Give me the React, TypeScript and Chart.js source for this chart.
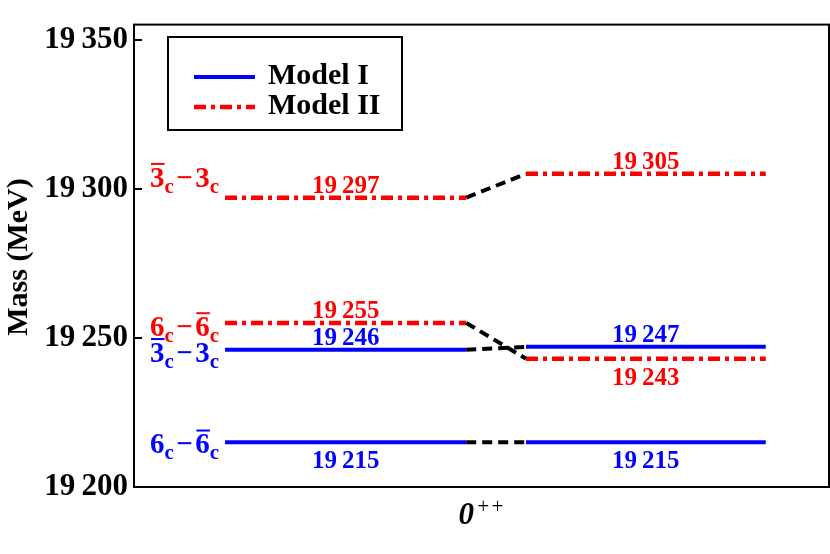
import React, { useEffect, useRef } from "react";
import { Chart, registerables } from "chart.js";
Chart.register(...registerables);

// ---- data ----
const stateLabels = ["6_c−~6_c", "~3_c−3_c"]; // "~" = overline next char, "_" = subscript next char
const modelILeft = [19215, 19246];
const modelIRight = [19215, 19247];
const modelIILeft = [19255, 19297];
const modelIIRight = [19243, 19305];
const yTicks = [19200, 19250, 19300, 19350];
const legendLabels = ["Model I", "Model II"];
const xCategory = ["0", "++"];

// ---- layout/style (not data) ----
const LEFT_X = [13.1, 47.8];
const RIGHT_X = [56.4, 90.9];
const BLUE = "#0000ff";
const RED = "#ff0000";
const FONT = '"Liberation Serif", "Times New Roman", serif';
const RED_DASH = [12, 5, 4, 5];
// value label placement
const modelIPlace = { left: ["below", "above"], right: ["below", "above"] };
const modelIIPlace = { left: ["above", "above"], right: ["below", "above"] };
// state label baseline offsets (px) from line
const modelIStateOffset = [11, 12];
const modelIIStateOffset = [13, -11];

function fmt(v: number) {
  const s = String(v);
  return s.slice(0, 2) + "\u2009" + s.slice(2);
}

function drawMarkup(ctx: CanvasRenderingContext2D, markup: string, x: number, baseline: number, color: string) {
  const main = 29;
  const sub = 21;
  ctx.fillStyle = color;
  ctx.textAlign = "left";
  ctx.textBaseline = "alphabetic";
  let cx = x;
  let i = 0;
  while (i < markup.length) {
    const ch = markup[i];
    if (ch === "~") {
      const c = markup[i + 1];
      ctx.font = `bold ${main}px ${FONT}`;
      const w = ctx.measureText(c).width;
      ctx.fillText(c, cx, baseline);
      ctx.fillRect(cx + 1, baseline - main * 0.68 - 4, w - 1, 2);
      cx += w;
      i += 2;
    } else if (ch === "_") {
      const c = markup[i + 1];
      ctx.font = `bold ${sub}px ${FONT}`;
      ctx.fillText(c, cx, baseline + 6);
      cx += ctx.measureText(c).width;
      i += 2;
    } else if (ch === "−") {
      ctx.font = `bold ${main}px ${FONT}`;
      cx += 2.5;
      ctx.fillText(ch, cx, baseline);
      cx += ctx.measureText(ch).width + 2.5;
      i += 1;
    } else {
      ctx.font = `bold ${main}px ${FONT}`;
      ctx.fillText(ch, cx, baseline);
      cx += ctx.measureText(ch).width;
      i += 1;
    }
  }
}

function seg(x0: number, x1: number, y0: number, y1: number) {
  return [
    { x: x0, y: y0 },
    { x: x1, y: y1 },
  ];
}

export default function App() {
  const ref = useRef<HTMLCanvasElement>(null);
  useEffect(() => {
    const canvas = ref.current!;
    const datasets: any[] = [];
    // connectors (black dashed)
    const pairs: [number[], number[]][] = [
      [modelILeft, modelIRight],
      [modelIILeft, modelIIRight],
    ];
    pairs.forEach(([l, r]) => {
      l.forEach((v, i) => {
        datasets.push({
          data: seg(LEFT_X[1], RIGHT_X[0], v, r[i]),
          borderColor: "#000",
          borderWidth: 4,
          borderDash: [10, 6],
          pointRadius: 0,
        });
      });
    });
    const addModel = (l: number[], r: number[], color: string, dash: number[], width: number, place: any, stateOff: number[]) => {
      l.forEach((v, i) => {
        datasets.push({
          data: seg(LEFT_X[0], LEFT_X[1], v, v),
          borderColor: color,
          borderWidth: width,
          borderDash: dash,
          pointRadius: 0,
          valueLabel: { text: fmt(v), place: place.left[i], color },
          stateLabel: { text: stateLabels[i], offset: stateOff[i], color },
        });
      });
      r.forEach((v, i) => {
        datasets.push({
          data: seg(RIGHT_X[0], RIGHT_X[1], v, v),
          borderColor: color,
          borderWidth: width,
          borderDash: dash,
          pointRadius: 0,
          valueLabel: { text: fmt(v), place: place.right[i], color },
        });
      });
    };
    addModel(modelILeft, modelIRight, BLUE, [], 4, modelIPlace, modelIStateOffset);
    addModel(modelIILeft, modelIIRight, RED, RED_DASH, 4.5, modelIIPlace, modelIIStateOffset);

    const deco = {
      id: "deco",
      afterDraw(chart: any) {
        const ctx: CanvasRenderingContext2D = chart.ctx;
        const a = chart.chartArea;
        const ys = chart.scales.y;
        const xs = chart.scales.x;
        ctx.save();
        // frame
        ctx.strokeStyle = "#000";
        ctx.lineWidth = 2;
        ctx.setLineDash([]);
        ctx.strokeRect(a.left, a.top, a.right - a.left, a.bottom - a.top);
        // inside ticks
        yTicks.forEach((v) => {
          const py = Math.round(ys.getPixelForValue(v));
          ctx.beginPath();
          ctx.moveTo(a.left, py);
          ctx.lineTo(a.left + 8, py);
          ctx.stroke();
        });
        // value + state labels
        chart.data.datasets.forEach((ds: any) => {
          const p0 = ds.data[0];
          const p1 = ds.data[1];
          const px0 = xs.getPixelForValue(p0.x);
          const px1 = xs.getPixelForValue(p1.x);
          const py = ys.getPixelForValue(p0.y);
          if (ds.valueLabel) {
            const vl = ds.valueLabel;
            ctx.font = `bold 25px ${FONT}`;
            ctx.fillStyle = vl.color;
            ctx.textAlign = "center";
            ctx.textBaseline = "alphabetic";
            const by = vl.place === "above" ? py - 5 : py + 26;
            ctx.fillText(vl.text, (px0 + px1) / 2, by);
          }
          if (ds.stateLabel) {
            const sl = ds.stateLabel;
            drawMarkup(ctx, sl.text, 150, py + sl.offset, sl.color);
          }
        });
        // legend
        ctx.lineWidth = 2;
        ctx.strokeStyle = "#000";
        ctx.strokeRect(168, 37, 234, 93);
        ctx.lineWidth = 4;
        ctx.strokeStyle = BLUE;
        ctx.beginPath();
        ctx.moveTo(194, 77);
        ctx.lineTo(255, 77);
        ctx.stroke();
        ctx.lineWidth = 4.5;
        ctx.strokeStyle = RED;
        ctx.setLineDash(RED_DASH);
        ctx.beginPath();
        ctx.moveTo(194, 107);
        ctx.lineTo(255, 107);
        ctx.stroke();
        ctx.setLineDash([]);
        ctx.fillStyle = "#000";
        ctx.font = `bold 30px ${FONT}`;
        ctx.textAlign = "left";
        ctx.textBaseline = "alphabetic";
        ctx.fillText(legendLabels[0], 268, 84);
        ctx.fillText(legendLabels[1], 268, 114);
        // x category label
        const cx = (a.left + a.right) / 2;
        ctx.font = `italic bold 31px ${FONT}`;
        const w0 = ctx.measureText(xCategory[0]).width;
        ctx.font = `italic 21px ${FONT}`;
        const w1 = ctx.measureText(xCategory[1]).width;
        const sx = cx - (w0 + w1 + 2) / 2;
        ctx.font = `italic bold 31px ${FONT}`;
        ctx.fillText(xCategory[0], sx, 524);
        ctx.font = `italic 21px ${FONT}`;
        ctx.fillText(xCategory[1], sx + w0 + 2, 513);
        // y title
        ctx.translate(27, 257);
        ctx.rotate(-Math.PI / 2);
        ctx.font = `bold 30px ${FONT}`;
        ctx.textAlign = "center";
        ctx.fillText("Mass (MeV)", 0, 0);
        ctx.restore();
      },
    };

    const chart = new Chart(canvas, {
      type: "line",
      data: { datasets },
      options: {
        animation: false,
        responsive: false,
        devicePixelRatio: 1,
        layout: { padding: { top: 23, right: 1, bottom: 67, left: 0 } },
        plugins: { legend: { display: false }, tooltip: { enabled: false } },
        elements: { line: { tension: 0, borderCapStyle: "butt" } },
        scales: {
          x: { type: "linear", min: 0, max: 100, display: false },
          y: {
            type: "linear",
            min: 19200,
            max: 19355,
            grid: { display: false, drawTicks: false },
            border: { display: false },
            afterBuildTicks: (s: any) => {
              s.ticks = yTicks.map((v) => ({ value: v }));
            },
            afterFit: (s: any) => {
              s.width = 134;
            },
            ticks: {
              padding: 6,
              color: "#000",
              font: { family: FONT, size: 31, weight: "bold" },
              callback: (v: any) => fmt(Number(v)),
            },
          },
        },
      },
      plugins: [deco],
    } as any);
    return () => chart.destroy();
  }, []);
  return (
    <div style={{ position: "fixed", left: 0, top: 0, width: 830, height: 554, background: "#fff" }}>
      <canvas ref={ref} width={830} height={554} style={{ width: 830, height: 554, display: "block" }} />
    </div>
  );
}
